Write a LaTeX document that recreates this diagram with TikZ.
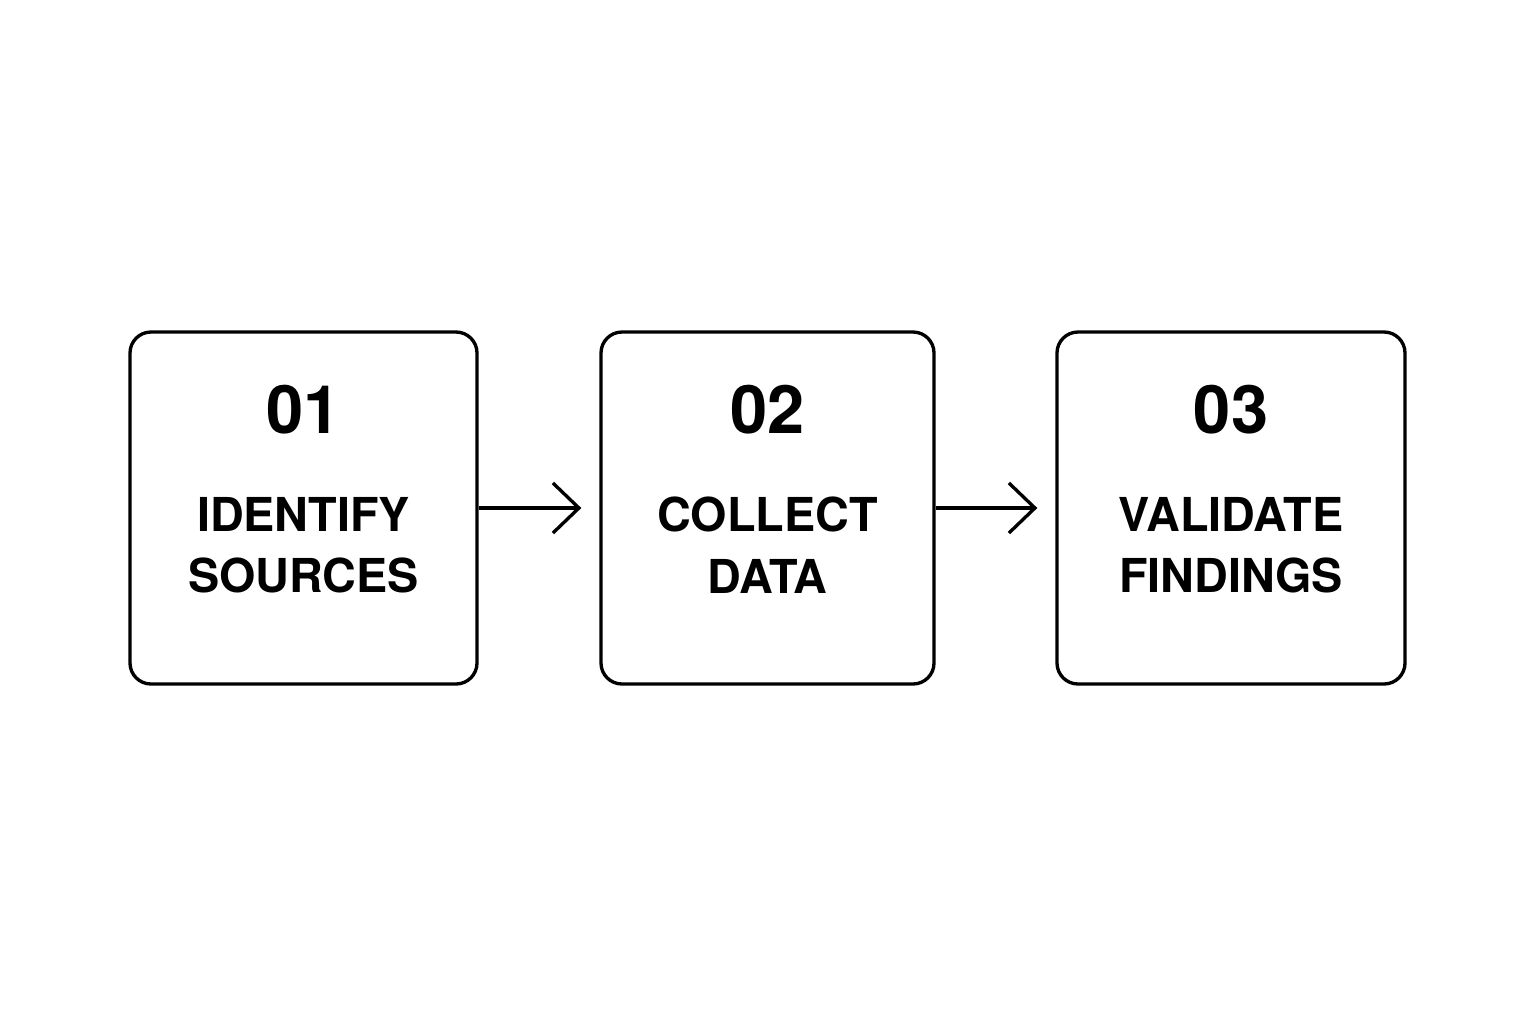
\documentclass[tikz,border=0pt]{standalone}
\usepackage{fontspec}
\setmainfont{TeX Gyre Heros}
\usetikzlibrary{arrows.meta}
\usetikzlibrary{calc,positioning}

\tikzset{
    stagebox/.style = {draw, line width=1.9pt, rounded corners=0.42cm, minimum height=7.04cm},
    stagenum/.style = {font=\fontsize{38}{40}\selectfont\bfseries},
    stagelabel/.style = {font=\fontsize{26.6}{35}\selectfont\bfseries, align=center},
}

\begin{document}
\begin{tikzpicture}[>={Straight Barb[length=0.52cm,width=1cm,line width=1.9pt]}]
    \useasboundingbox[fill=white] (0,0) rectangle (30.72,-20.48);
    
    \node[stagebox, minimum width=6.94cm] (b1) at (6.07,-10.16) {};
    \node[stagebox, minimum width=6.66cm] (b2) at (15.35,-10.16) {};
    \node[stagebox, minimum width=6.96cm] (b3) at (24.62,-10.16) {};
    
    \node[stagenum] (n1) at ($(b1.center)+(0,1.96)$) {01};
    \node[stagenum] (n2) at ($(b2.center)+(0,1.96)$) {02};
    \node[stagenum] (n3) at ($(b3.center)+(0,1.96)$) {03};
    
    \node[stagelabel] (l1) at ($(b1.center)+(0,-0.74)$) {IDENTIFY\\SOURCES};
    \node[stagelabel] (l2) at ($(b2.center)+(0,-0.74)$) {COLLECT\\DATA};
    \node[stagelabel] (l3) at ($(b3.center)+(0,-0.74)$) {VALIDATE\\FINDINGS};
    
    \draw[->, line width=1.9pt, shorten >=0.36cm] (b1.east) -- (b2.west);
    \draw[->, line width=1.9pt, shorten >=0.36cm] (b2.east) -- (b3.west);
    
\end{tikzpicture}
\end{document}
